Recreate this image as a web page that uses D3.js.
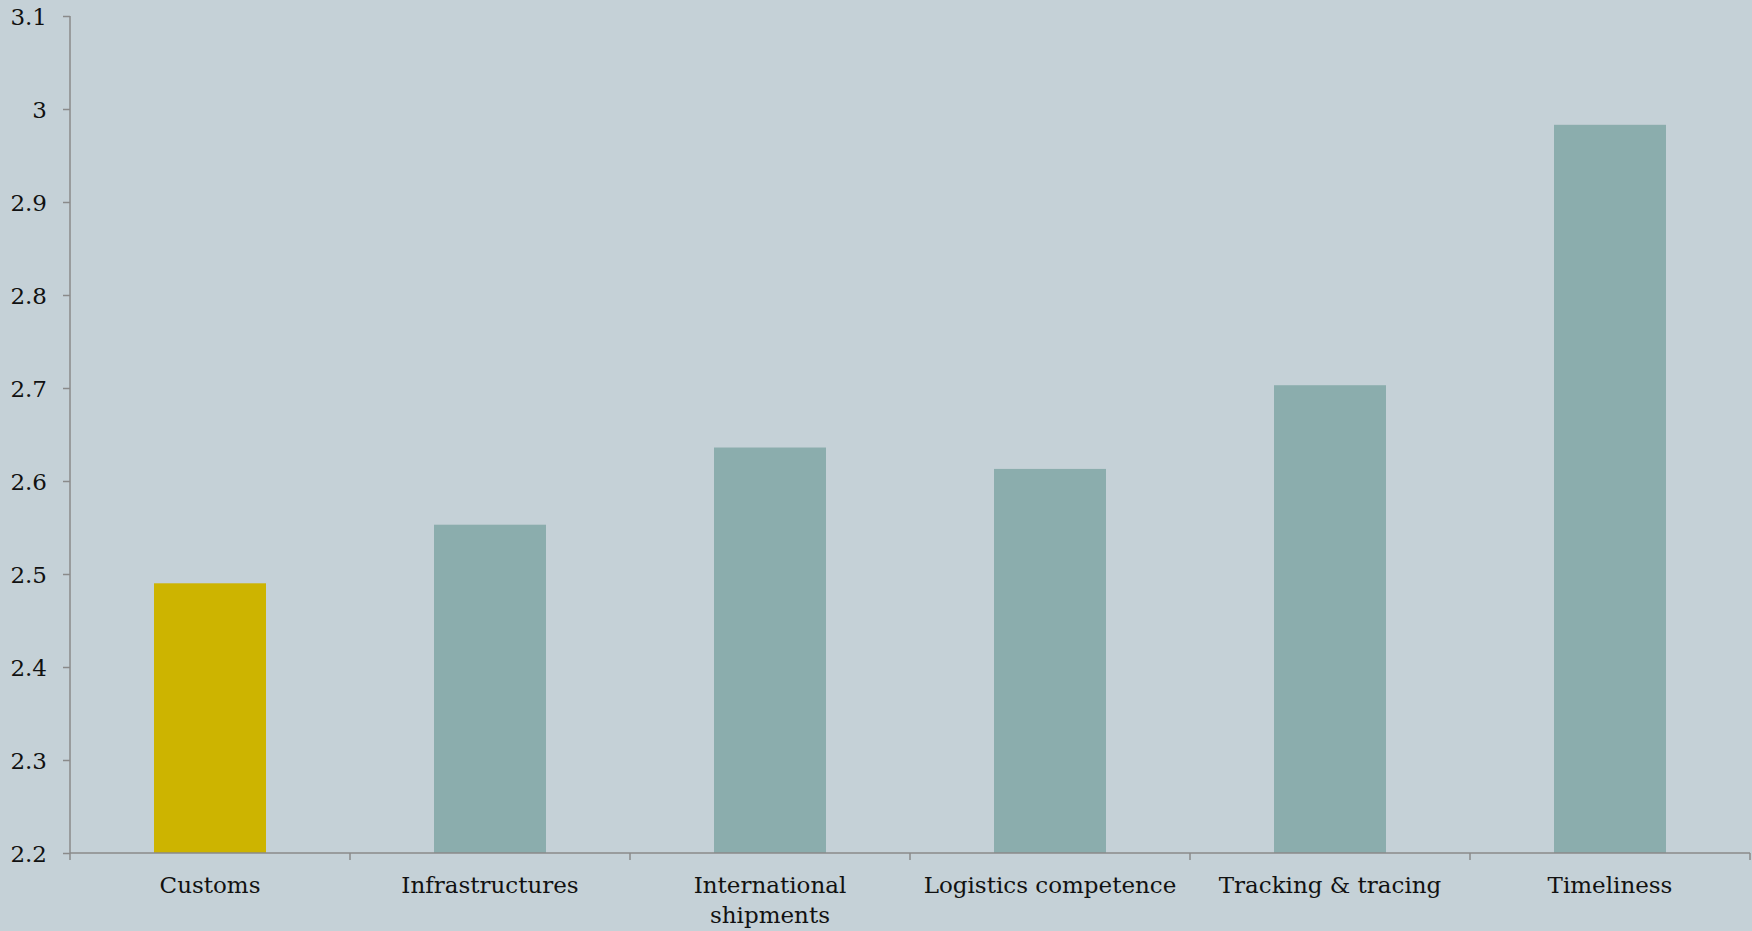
<!DOCTYPE html>
<html>
<head>
<meta charset="utf-8">
<script src="https://cdn.jsdelivr.net/npm/d3@7"></script>
<style>
  html, body { margin: 0; padding: 0; background: #c5d1d7; }
  svg { display: block; }
  text { font-family: "DejaVu Serif", Georgia, serif; fill: #111; }
</style>
</head>
<body>
<svg id="chart" width="1752" height="931"></svg>
<script>
// Logistics performance scores by dimension
const categories = ["Customs", "Infrastructures", "International shipments",
                    "Logistics competence", "Tracking & tracing", "Timeliness"];
const scores = [2.49, 2.553, 2.636, 2.613, 2.703, 2.983];
const highlighted = ["Customs"];
const yTicks = [2.2, 2.3, 2.4, 2.5, 2.6, 2.7, 2.8, 2.9, 3.0, 3.1];

const W = 1752, H = 931;
const margin = { top: 16, right: 2, bottom: 78, left: 70 };

const svg = d3.select("#chart");
svg.append("rect").attr("width", W).attr("height", H).attr("fill", "#c5d1d7");

const x = d3.scaleBand()
  .domain(categories)
  .range([margin.left, W - margin.right])
  .paddingInner(0.6)
  .paddingOuter(0.3);

const y = d3.scaleLinear()
  .domain([2.2, 3.1])
  .range([H - margin.bottom, margin.top]);

const data = categories.map((c, i) => ({ cat: c, val: scores[i] }));

// bars
svg.append("g").selectAll("rect")
  .data(data)
  .join("rect")
  .attr("x", d => x(d.cat))
  .attr("width", x.bandwidth())
  .attr("y", d => y(d.val))
  .attr("height", d => y(2.2) - y(d.val))
  .attr("fill", d => highlighted.includes(d.cat) ? "#cdb400" : "#8badad");

const axisColor = "#8a8a8a";

// y axis
const yAxis = svg.append("g")
  .attr("transform", `translate(${margin.left},0)`)
  .call(d3.axisLeft(y).tickValues(yTicks).tickSize(7).tickPadding(16)
    .tickFormat(d => String(+d.toFixed(1))));
yAxis.select(".domain").attr("stroke", axisColor).attr("stroke-width", 1.5)
  .attr("d", `M0,${y(3.1)}V${y(2.2)}`);
yAxis.selectAll(".tick line").attr("stroke", axisColor).attr("stroke-width", 1.5);
yAxis.selectAll(".tick text").attr("font-size", 23).attr("fill", "#111")
  .attr("font-family", "DejaVu Serif, Georgia, serif").attr("dy", "0.35em");

// x axis: baseline plus ticks at the band boundaries
const step = x.step();
const xg = svg.append("g");
xg.append("line")
  .attr("x1", margin.left).attr("x2", W - margin.right)
  .attr("y1", y(2.2)).attr("y2", y(2.2))
  .attr("stroke", axisColor).attr("stroke-width", 1.5);
const bandEdges = categories.map(c => x(c) - (step - x.bandwidth()) / 2)
  .concat([x(categories[categories.length - 1]) + x.bandwidth() + (step - x.bandwidth()) / 2]);
xg.selectAll("line.tk")
  .data(bandEdges)
  .join("line")
  .attr("class", "tk")
  .attr("x1", d => d).attr("x2", d => d)
  .attr("y1", y(2.2)).attr("y2", y(2.2) + 7)
  .attr("stroke", axisColor).attr("stroke-width", 1.5);

// category labels, wrapped when wider than the band
const labels = xg.selectAll("text")
  .data(categories)
  .join("text")
  .attr("x", d => x(d) + x.bandwidth() / 2)
  .attr("y", y(2.2) + 40)
  .attr("text-anchor", "middle")
  .attr("font-size", 23)
  .text(d => d);

labels.each(function(d) {
  const t = d3.select(this);
  if (this.getComputedTextLength() > step * 0.97) {
    const words = d.split(" ");
    t.text(null);
    let line = [];
    let tspan = t.append("tspan").attr("x", t.attr("x")).attr("dy", 0);
    words.forEach(w => {
      line.push(w);
      tspan.text(line.join(" "));
      if (tspan.node().getComputedTextLength() > step * 0.6 && line.length > 1) {
        line.pop();
        tspan.text(line.join(" "));
        line = [w];
        tspan = t.append("tspan").attr("x", t.attr("x")).attr("dy", "1.3em").text(w);
      }
    });
  }
});
</script>
</body>
</html>
